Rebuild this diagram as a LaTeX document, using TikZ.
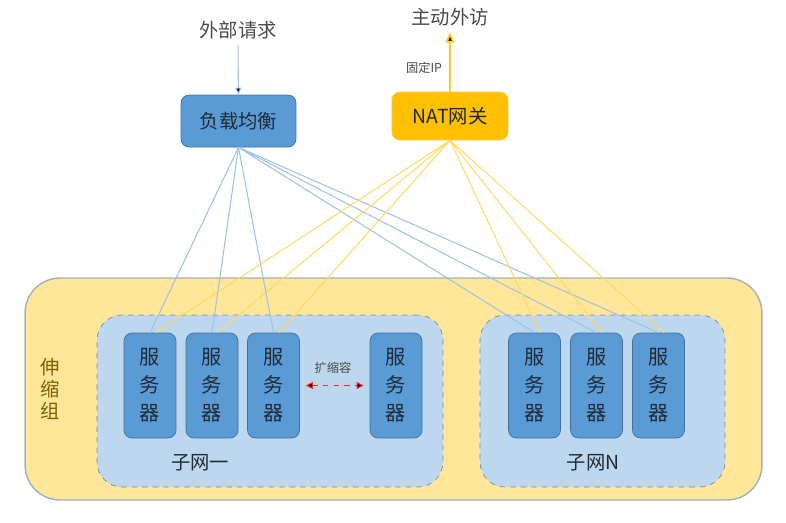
\documentclass[tikz,border=0pt]{standalone}
\usepackage{fontspec}
\setmainfont{Noto Sans CJK SC}
\usetikzlibrary{arrows.meta}
\definecolor{grpfill}{HTML}{FFE699}
\definecolor{grpedge}{HTML}{9FB1BF}
\definecolor{netfill}{HTML}{BDD7EE}
\definecolor{netedge}{HTML}{7F8A96}
\definecolor{srvfill}{HTML}{5B9BD5}
\definecolor{srvedge}{HTML}{41719C}
\definecolor{natfill}{HTML}{FFC000}
\definecolor{lbline}{HTML}{9DC3E6}
\definecolor{natline}{HTML}{FFD966}
\definecolor{txtdark}{HTML}{1F2A36}
\definecolor{txtgrey}{HTML}{4A4A4A}
\definecolor{grptext}{HTML}{7F6000}

\begin{document}
\begin{tikzpicture}[x=0.02cm,y=-0.02cm,
    server/.style={draw=srvedge,fill=srvfill,rounded corners=0.16cm,minimum width=1.04cm,minimum height=2.1cm,
      inner sep=0pt,align=center,text=txtdark,font=\fontsize{11.5}{16}\selectfont},
    subnet/.style={draw=netedge,dashed,fill=netfill,rounded corners=0.5cm,minimum height=3.44cm,inner sep=0pt},
    label/.style={text=txtgrey,font=\fontsize{11}{13}\selectfont},
    small/.style={text=txtgrey,font=\fontsize{7}{9}\selectfont},
    lbedge/.style={draw=lbline,line width=0.6pt},
    natedge/.style={draw=natline,line width=0.6pt}]
                      \useasboundingbox (0,0) rectangle (786,522);
                      \node[draw=grpedge,line width=0.8pt,fill=grpfill,rounded corners=0.7cm,minimum width=14.74cm,minimum height=4.44cm] (Group) at (393.5,389) {};
                      \node[subnet,minimum width=6.92cm] (Net1) at (270,401) {};
                      \node[subnet,minimum width=4.9cm] (NetN) at (602.5,401) {};
                      \node[text=grptext,align=center,font=\fontsize{11}{12.5}\selectfont] (GroupLabel) at (50,389) {伸\\缩\\组};
                      \node[label,text=txtdark] (Net1Label) at (200,463) {子网一};
                      \node[label,text=txtdark] (NetNLabel) at (593,463) {子网N};
                      \node[server] (S1) at (150,385.5) {服\\务\\器};
                      \node[server] (S2) at (212,385.5) {服\\务\\器};
                      \node[server] (S3) at (273.5,385.5) {服\\务\\器};
                      \node[server] (S4) at (396,385.5) {服\\务\\器};
                      \node[server] (S5) at (534.5,385.5) {服\\务\\器};
                      \node[server] (S6) at (596.5,385.5) {服\\务\\器};
                      \node[server] (S7) at (658.5,385.5) {服\\务\\器};
                      \node[small] (Scale) at (333,368) {扩缩容};
                      \node[draw=srvedge,fill=srvfill,rounded corners=0.16cm,minimum width=2.3cm,minimum height=1.04cm,label,text=txtdark] (LB) at (238.5,121) {负载均衡};
                      \node[draw=natfill!80!white,fill=natfill,rounded corners=0.16cm,minimum width=2.32cm,minimum height=0.96cm,label,text=txtdark] (NAT) at (450,116) {NAT网关};
                      \node[label] (Req) at (238,30) {外部请求};
                      \node[label] (Out) at (450,17) {主动外访};
                      \node[small] (FixIP) at (424,68) {固定IP};
                      \path[lbedge,-{Triangle[length=4pt,width=3.5pt]}] (Req) edge (LB);
                      \path[draw=natfill!85!white,line width=1pt,-{Triangle[length=6pt,width=5pt]}] (NAT) edge (Out);
                      \path[lbedge] (LB.south) edge (S1.north) edge (S2.north) edge (S3.north)
                                    edge (S5.north) edge (S6.north) edge (S7.north);
                      \path[natedge] (NAT.south) edge (S1.84) edge (S2.84) edge (S3.84)
                                     edge (S5.84) edge (S6.84) edge (S7.84);
                      \path[draw=red!85!white,dashed,line width=0.6pt,{Triangle[length=4pt,width=4pt]}-{Triangle[length=4pt,width=4pt]},shorten <=0.12cm,shorten >=0.12cm] (S3) edge (S4);
                    \end{tikzpicture}
\end{document}
